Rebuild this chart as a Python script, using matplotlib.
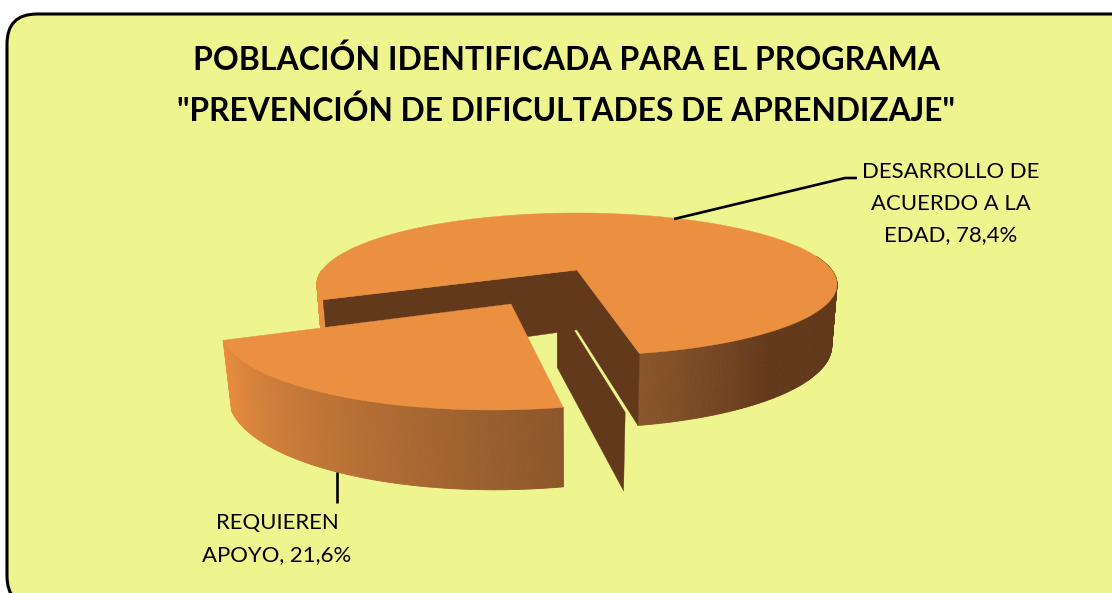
import numpy as np
import matplotlib
matplotlib.use('Agg')
import matplotlib.pyplot as plt
from matplotlib.patches import FancyBboxPatch
from matplotlib.collections import PolyCollection
from matplotlib.colors import to_rgb

# data
names = ['DESARROLLO DE\nACUERDO A LA\nEDAD, 78,4%', 'REQUIEREN\nAPOYO, 21,6%']
values = [78.4, 21.6]
title_lines = ['POBLACIÓN IDENTIFICADA PARA EL PROGRAMA',
               '"PREVENCIÓN DE DIFICULTADES DE APRENDIZAJE"']

ORANGE = '#EB8F41'
BROWN = '#63391C'
BG = '#EEF48E'

# pie camera
CX, CY = 577, 270
RX, RY = 254.8, 68.4
PERSP = 0.2
DEPTH = 61
DEPTH_W = 0.02
EXPLODE = 0.51
START = 203.6


def project(theta, r=1.0, ex=0.0, mid=0.0, low=False):
    t = np.radians(theta)
    m = np.radians(mid)
    u = r * np.cos(t) + ex * np.cos(m)
    v = r * np.sin(t) + ex * np.sin(m)
    w = 1 + PERSP * v + (DEPTH_W if low else 0)
    x = CX + RX * u / w
    y = CY - (RY * v - (DEPTH if low else 0)) / w
    return np.column_stack([x, y])


def wall_color(theta):
    stops = [180, START, START + 77.76, 310, 600]
    cols = np.array([to_rgb(c) for c in [ORANGE, ORANGE, '#8B562B', BROWN, BROWN]])
    return [np.interp(theta, stops, cols[:, i]) for i in range(3)]


def draw_wall(ax, t0, t1, ex=0.0, mid=0.0):
    th = np.linspace(t0, t1, 160)
    top = project(th, ex=ex, mid=mid)
    low = project(th, ex=ex, mid=mid, low=True)
    quads, cols = [], []
    for i in range(len(th) - 1):
        quads.append([top[i], top[i + 1], low[i + 1], low[i]])
        tm = (th[i] + th[i + 1]) / 2
        cols.append(wall_color(tm if tm >= 180 else tm + 360))
    ax.add_collection(PolyCollection(quads, facecolors=cols, edgecolors='face', linewidths=0.6))


def draw_cut(ax, theta, ex=0.0, mid=0.0):
    a = project(theta, r=0.0, ex=ex, mid=mid)[0]
    b = project(theta, ex=ex, mid=mid)[0]
    c = project(theta, ex=ex, mid=mid, low=True)[0]
    d = project(theta, r=0.0, ex=ex, mid=mid, low=True)[0]
    ax.fill([a[0], b[0], c[0], d[0]], [a[1], b[1], c[1], d[1]], color=BROWN, lw=0.3)


def draw_top(ax, t0, t1, ex=0.0, mid=0.0):
    th = np.linspace(t0, t1, 200)
    rim = project(th, ex=ex, mid=mid)
    a = project(t0, r=0.0, ex=ex, mid=mid)[0]
    ax.fill(np.r_[a[0], rim[:, 0]], np.r_[a[1], rim[:, 1]], color=ORANGE, lw=0.3)


fig = plt.figure(figsize=(11.12, 5.93), dpi=100)
ax = fig.add_axes([0, 0, 1, 1])
ax.set_xlim(0, 1112)
ax.set_ylim(593, 0)
ax.axis('off')

frame = FancyBboxPatch((38, 45), 1150, 530, boxstyle='round,pad=31,rounding_size=30',
                       fc=BG, ec='black', lw=2.2)
ax.add_patch(frame)

ax.text(566.5, 59.5, title_lines[0], ha='center', va='center', fontsize=23, fontweight='bold', family='Lato')
ax.text(566, 110.5, title_lines[1], ha='center', va='center', fontsize=22.9, fontweight='bold', family='Lato')

sweep_small = values[1] / sum(values) * 360
end_small = START + sweep_small
mid_small = START + sweep_small / 2

# big slice: wall, cut faces, top
draw_wall(ax, 180, START)
draw_wall(ax, end_small, 372)
draw_cut(ax, START)
draw_cut(ax, end_small)
draw_top(ax, end_small, START + 360)

# the detached strip behind the small slice
rt = project(end_small, ex=EXPLODE, mid=mid_small)[0]
rb = project(end_small, ex=EXPLODE, mid=mid_small, low=True)[0]
strip_x = [rt[0] - 6, rt[0] + 9, rt[0] + 62, rb[0] + 60, rt[0] - 6]
strip_y = [rt[1] - 78, rt[1] - 80, rt[1] + 5, rb[1] + 4, rt[1] - 40]
ax.fill(strip_x, strip_y, color=BROWN, lw=0.3)

# small slice
draw_wall(ax, START, end_small, ex=EXPLODE, mid=mid_small)
draw_top(ax, START, end_small, ex=EXPLODE, mid=mid_small)

# leader lines
ax.plot([674, 845, 857], [219, 178, 178], color='black', lw=1.9, solid_capstyle='butt')
ax.plot([337, 337], [472, 503], color='black', lw=1.9, solid_capstyle='butt')

ax.text(951, 204, names[0], ha='center', va='center', fontsize=15.9, family='Lato', linespacing=1.72)
ax.text(277, 539, names[1], ha='center', va='center', fontsize=15.9, family='Lato', linespacing=1.72)

fig.savefig('out.png', dpi=100, facecolor='white')
